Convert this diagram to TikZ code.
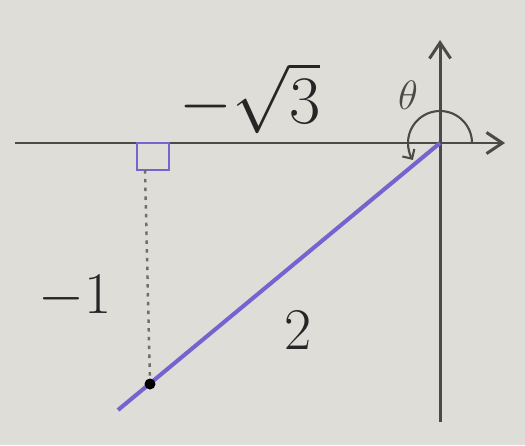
\documentclass[tikz,border=0pt]{standalone}
\usetikzlibrary{calc, arrows.meta}

\begin{document}
\begin{tikzpicture}[x=0.2mm, y=-0.2mm,
    axisLine/.style={draw=axisColour, line width=1.7pt, -{Straight Barb[length=9pt, width=12pt]}},
    labelText/.style={font=\Huge, scale=1.35, text=inkColour, inner sep=1pt}]
    % Define colours
    \definecolor{paperColour}{HTML}{DEDDD7}
    \definecolor{axisColour}{HTML}{4A4A48}
    \definecolor{inkColour}{HTML}{262626}
    \definecolor{sideColour}{HTML}{7563D0}

    % Paper and frame
    \fill[paperColour] (0,0) rectangle (525,445);
    \useasboundingbox (0,0) rectangle (525,445);

    % Define coordinates
    \coordinate (O) at (440,143);
    \coordinate (xL) at (15,143);
    \coordinate (xR) at (505,143);
    \coordinate (yB) at (440,422);
    \coordinate (yT) at (440,40);
    \coordinate (P) at (150,384);
    \coordinate (F) at (145,170);
    \coordinate (E) at (118,410);

    % Draw axes
    \draw[axisLine] (xL) -- (xR);
    \draw[axisLine] (yB) -- (yT);

    % Angle theta
    \draw[axisColour, line width=1.2pt, -{Straight Barb[length=4pt]}] (O) ++(6.4mm,0) arc[start angle=0, end angle=212, radius=6.4mm];
    \node[labelText, font=\LARGE, scale=1, text=axisColour] (theta) at (408,95) {$\theta$};

    % Right angle and dotted side
    \draw[sideColour, line width=1.5pt] (137,143) rectangle (169,170);
    \draw[axisColour!80, line width=1.4pt, dash pattern=on 2pt off 3pt] (F) -- (P);

    % Terminal side
    \draw[sideColour, line width=2.3pt] (O) -- (E);
    \fill[black] (P) circle (5.5);

    % Side lengths
    \node[labelText, scale=1.15] (adj) at (250,98) {$-\sqrt{3}$};
    \node[labelText] (opp) at (75,297) {$-1$};
    \node[labelText] (hyp) at (298,330) {$2$};

\end{tikzpicture}
\end{document}
